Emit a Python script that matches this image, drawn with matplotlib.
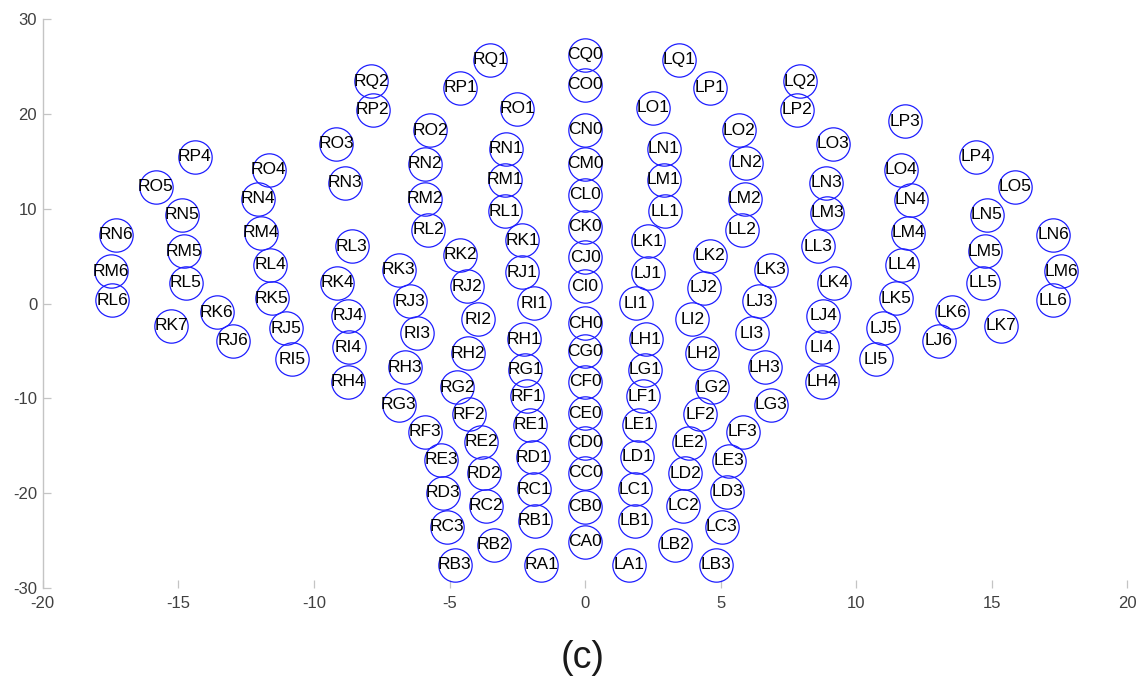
import numpy as np
from matplotlib import pyplot as plt

plt.rcParams['font.family'] = ['Liberation Sans', 'DejaVu Sans']
plt.rcParams['axes.unicode_minus'] = False

# electrode labels and positions
# middle column (x = 0)
mid_names = ["CQ0", "CO0", "CN0", "CM0", "CL0", "CK0", "CJ0", "CI0",
             "CH0", "CG0", "CF0", "CE0", "CD0", "CC0", "CB0", "CA0"]
mid_x = [0.0] * 16
mid_y = [26.30, 23.13, 18.38, 14.79, 11.51, 8.10, 4.93, 1.83,
         -2.04, -5.04, -8.21, -11.55, -14.65, -17.82, -21.41, -25.11]

# right side (negative x)
right_names = ["RQ1", "RP1", "RO1", "RN1", "RM1", "RL1", "RK1", "RJ1", "RI1", "RK2",
               "RJ2", "RI2", "RI3", "RH1", "RH2", "RG1", "RG2", "RF1", "RF2", "RF3",
               "RE1", "RE2", "RE3", "RD1", "RD2", "RD3", "RC1", "RC2", "RC3", "RB1",
               "RB2", "RB3", "RA1", "RQ2", "RP2", "RO3", "RO2", "RN2", "RM2", "RL2",
               "RN3", "RL3", "RP4", "RO4", "RO5", "RN4", "RN5", "RM4", "RN6", "RM5",
               "RL4", "RK3", "RM6", "RL5", "RK4", "RL6", "RK7", "RK6", "RJ6", "RK5",
               "RJ5", "RI5", "RJ4", "RI4", "RH4", "RJ3", "RH3", "RG3"]
right_x = [-3.49, -4.60, -2.51, -2.92, -2.94, -2.96, -2.32, -2.32, -1.89, -4.60,
           -4.35, -3.95, -6.20, -2.26, -4.32, -2.20, -4.72, -2.14, -4.29, -5.89,
           -2.02, -3.83, -5.30, -1.92, -3.74, -5.25, -1.89, -3.65, -5.09, -1.86,
           -3.37, -4.81, -1.61, -7.89, -7.83, -9.18, -5.71, -5.92, -5.89, -5.79,
           -8.87, -8.60, -14.40, -11.67, -15.83, -12.07, -14.85, -11.96, -17.31, -14.79,
           -11.61, -6.87, -17.48, -14.72, -9.15, -17.43, -15.27, -13.58, -13.00, -11.55,
           -11.03, -10.79, -8.76, -8.72, -8.75, -6.45, -6.65, -6.87]
right_y = [25.77, 22.78, 20.57, 16.37, 13.10, 9.75, 6.69, 3.31, 0.07, 5.18,
           1.83, -1.62, -3.09, -3.73, -5.21, -6.97, -8.80, -9.79, -11.65, -13.49,
           -12.78, -14.55, -16.48, -16.19, -17.88, -19.93, -19.57, -21.34, -23.52, -22.89,
           -25.46, -27.57, -27.57, 23.48, 20.49, 16.87, 18.31, 14.76, 11.06, 7.82,
           12.75, 6.05, 15.50, 14.15, 12.33, 11.09, 9.40, 7.47, 7.29, 5.52,
           4.12, 3.60, 3.41, 2.19, 2.19, 0.35, -2.32, -0.92, -3.91, 0.60,
           -2.57, -5.84, -1.27, -4.57, -8.21, 0.24, -6.73, -10.67]

# left side (positive x)
left_names = ["LQ1", "LP1", "LO1", "LN1", "LM1", "LL1", "LK1", "LJ1", "LI1", "LK2",
              "LJ2", "LI2", "LI3", "LH1", "LH2", "LG1", "LG2", "LF1", "LF2", "LF3",
              "LE1", "LE2", "LE3", "LD1", "LD2", "LD3", "LC1", "LC2", "LC3", "LB1",
              "LB2", "LB3", "LA1", "LQ2", "LP2", "LO3", "LO2", "LN2", "LM2", "LL2",
              "LN3", "LM3", "LL3", "LP3", "LP4", "LO4", "LO5", "LN4", "LN5", "LM4",
              "LN6", "LM5", "LL4", "LK3", "LM6", "LL5", "LK4", "LL6", "LK7", "LK6",
              "LJ6", "LK5", "LJ5", "LI5", "LJ4", "LI4", "LH4", "LJ3", "LH3", "LG3"]
left_x = [3.48, 4.62, 2.50, 2.90, 2.90, 2.94, 2.32, 2.32, 1.86, 4.59,
          4.38, 3.95, 6.16, 2.23, 4.32, 2.20, 4.69, 2.13, 4.25, 5.82,
          1.98, 3.83, 5.30, 1.92, 3.70, 5.24, 1.83, 3.61, 5.03, 1.83,
          3.33, 4.81, 1.61, 7.91, 7.82, 9.15, 5.69, 5.94, 5.88, 5.79,
          8.89, 8.93, 8.60, 11.80, 14.40, 11.63, 15.86, 12.00, 14.81, 11.91,
          17.27, 14.73, 11.67, 6.87, 17.56, 14.66, 9.18, 17.27, 15.32, 13.52,
          13.05, 11.48, 11.00, 10.71, 8.78, 8.72, 8.75, 6.43, 6.63, 6.87]
left_y = [25.77, 22.78, 20.67, 16.37, 13.10, 9.75, 6.58, 3.24, 0.07, 5.07,
          1.66, -1.62, -3.09, -3.73, -5.21, -6.97, -8.80, -9.79, -11.65, -13.49,
          -12.78, -14.65, -16.58, -16.13, -17.88, -19.83, -19.57, -21.34, -23.52, -22.89,
          -25.46, -27.57, -27.57, 23.48, 20.49, 16.87, 18.31, 14.86, 11.06, 7.82,
          12.75, 9.58, 6.05, 19.26, 15.50, 14.15, 12.33, 10.99, 9.40, 7.47,
          7.29, 5.52, 4.12, 3.60, 3.41, 2.19, 2.19, 0.35, -2.32, -0.92,
          -3.91, 0.60, -2.57, -5.84, -1.27, -4.57, -8.21, 0.24, -6.73, -10.67]

names = mid_names + right_names + left_names
xs = np.array(mid_x + right_x + left_x)
ys = np.array(mid_y + right_y + left_y)

fig = plt.figure(figsize=(11.42, 6.76), dpi=100)
ax = fig.add_axes([0.0374, 0.1302, 0.9499, 0.8410])

ax.plot(xs, ys, linestyle="none", marker="o", markersize=24,
        markerfacecolor="none", markeredgecolor="#1f1fff", markeredgewidth=0.9,
        clip_on=False)
for n, x, y in zip(names, xs, ys):
    ax.text(x, y, n, ha="center", va="center", fontsize=12.5, color="#000000",
            clip_on=False)

ax.set_xlim(-20, 20)
ax.set_ylim(-30, 30)
ax.set_xticks(np.arange(-20, 21, 5))
ax.set_yticks(np.arange(-30, 31, 10))

# matlab-ish axes: only left line, ticks pointing in
for s in ["top", "right", "bottom"]:
    ax.spines[s].set_visible(False)
ax.spines["left"].set_color("#c4c4c4")
ax.spines["left"].set_linewidth(1.0)
ax.tick_params(direction="in", length=6, width=0.9, color="#c4c4c4",
               labelsize=12, labelcolor="#404040")
ax.tick_params(axis="x", pad=6)
ax.tick_params(axis="y", pad=4)

fig.text(0.5105, 0.012, "(c)", ha="center", va="baseline", fontsize=27,
         color="#1a1a1a")

plt.savefig("out.png", dpi=100)
